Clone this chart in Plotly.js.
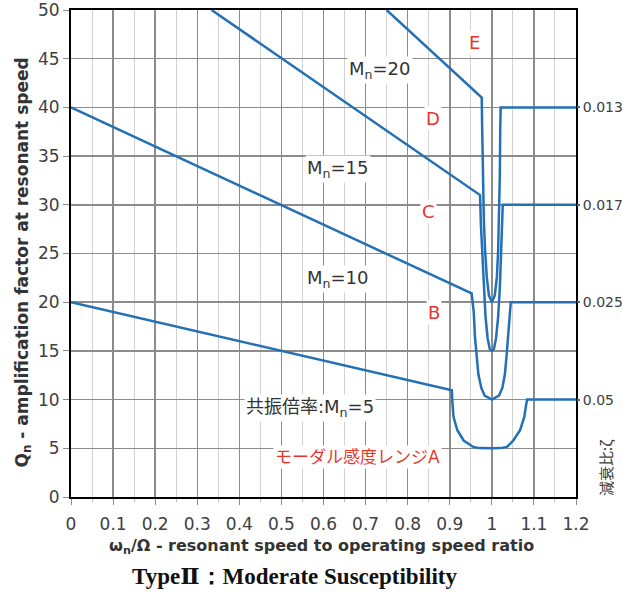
<!DOCTYPE html>
<html>
<head>
<meta charset="utf-8">
<script src="https://cdn.plot.ly/plotly-3.0.1.min.js"></script>
<style>html,body{margin:0;padding:0;background:#fff;}#chart{width:622px;height:593px;}</style>
</head>
<body>
<div id="chart"></div>
<script>
// Mn = 5 (curve A)
const mn5X = [0, 0.905, 0.906, 0.909, 0.918, 0.933, 0.956, 0.97, 1.0, 1.02, 1.036, 1.051, 1.067, 1.077, 1.082, 1.084, 1.2];
const mn5Y = [20, 10.95, 9.9, 8.2, 6.85, 5.8, 5.14, 5.02, 5.0, 5.02, 5.14, 5.8, 6.85, 8.2, 9.6, 10, 10];
// Mn = 10 (curve B)
const mn10X = [0, 0.952, 0.957, 0.960, 0.964, 0.968, 0.975, 0.983, 1.0, 1.017, 1.025, 1.031, 1.035, 1.038, 1.042, 1.045, 1.2];
const mn10Y = [40, 20.9, 19.0, 16.4, 14.5, 12.6, 11.2, 10.4, 10.0, 10.4, 11.2, 12.6, 14.5, 16.4, 18.5, 20, 20];
// Mn = 15 (curve C)
const mn15X = [0.334, 0.972, 0.974, 0.977, 0.981, 0.985, 0.990, 0.995, 1.0, 1.005, 1.010, 1.015, 1.019, 1.022, 1.024, 1.026, 1.2];
const mn15Y = [50, 31.0, 28, 25, 21.5, 18.5, 16.3, 15.2, 15.0, 15.2, 16.3, 18.5, 21.5, 25, 28, 30, 30];
// Mn = 20 (curve D)
const mn20X = [0.75, 0.976, 0.977, 0.979, 0.981, 0.984, 0.988, 0.993, 1.0, 1.007, 1.012, 1.015, 1.017, 1.019, 1.020, 1.021, 1.2];
const mn20Y = [50, 41.0, 38, 33, 28.5, 25.3, 22.6, 20.7, 20.0, 20.7, 22.6, 25.3, 28.5, 33, 38, 40, 40];
// left axis ticks
const qTickVals = [0, 5, 10, 15, 20, 25, 30, 35, 40, 45, 50];
// right axis: damping ratio
const dampTickVals = [10, 20, 30, 40];
const dampTickText = ["0.05", "0.025", "0.017", "0.013"];

const blue = '#2370b6';
const lineStyle = {color: blue, width: 2.5};
const traces = [
  {x: mn5X, y: mn5Y, mode: 'lines', line: lineStyle, hoverinfo: 'skip'},
  {x: mn10X, y: mn10Y, mode: 'lines', line: lineStyle, hoverinfo: 'skip'},
  {x: mn15X, y: mn15Y, mode: 'lines', line: lineStyle, hoverinfo: 'skip'},
  {x: mn20X, y: mn20Y, mode: 'lines', line: lineStyle, hoverinfo: 'skip'},
  {x: [], y: [], yaxis: 'y2', mode: 'lines', hoverinfo: 'skip'}
];

const tickFont = {family: 'DejaVu Sans, Noto Sans CJK JP', size: 17, color: '#404040'};
const rightFont = {family: 'DejaVu Sans, Noto Sans CJK JP', size: 14, color: '#404040'};
const labFont = {family: 'DejaVu Sans, Noto Sans CJK JP', size: 18, color: '#333333'};
const redFont = {family: 'DejaVu Sans, Noto Sans CJK JP', size: 18, color: '#e8352e'};
const redJpFont = {family: 'DejaVu Sans, Noto Sans CJK JP', size: 17, color: '#e8352e'};

function lab(text, x, y, font) {
  return {text: text, x: x, y: y, xref: 'x', yref: 'y', showarrow: false, font: font,
          bgcolor: 'white', borderpad: 1, xanchor: 'center', yanchor: 'middle'};
}

const layout = {
  width: 622, height: 593,
  margin: {l: 71, r: 46, t: 10, b: 96},
  paper_bgcolor: 'white', plot_bgcolor: 'white',
  showlegend: false,
  xaxis: {
    range: [0, 1.2], tick0: 0, dtick: 0.1, autorange: false,
    showgrid: true, gridcolor: '#8c8c8c', gridwidth: 1.5, zeroline: false,
    showline: true, linecolor: 'black', linewidth: 2, mirror: true,
    ticks: 'outside', ticklen: 6, tickcolor: '#8c8c8c', tickwidth: 1,
    tickfont: tickFont, ticklabelstandoff: 5, ticklabeloverflow: 'allow',
    minor: {dtick: 0.05, showgrid: true, gridcolor: '#d2d2d2', gridwidth: 1, ticks: 'outside', ticklen: 3, tickcolor: '#bbbbbb'}
  },
  yaxis: {
    range: [0, 50], autorange: false, tickmode: 'array', tickvals: qTickVals,
    showgrid: true, gridcolor: '#8c8c8c', gridwidth: 1.5, zeroline: false,
    showline: true, linecolor: 'black', linewidth: 2, mirror: true,
    ticks: 'outside', ticklen: 6, tickcolor: '#8c8c8c', tickwidth: 1,
    tickfont: tickFont, ticklabeloverflow: 'allow'
  },
  yaxis2: {
    overlaying: 'y', side: 'right', range: [0, 50], autorange: false,
    tickmode: 'array', tickvals: dampTickVals, ticktext: dampTickText,
    showgrid: false, zeroline: false, showline: false,
    ticks: 'outside', ticklen: 3, tickcolor: blue, tickwidth: 2,
    tickfont: rightFont, ticklabelstandoff: 0, ticklabeloverflow: 'allow'
  },
  annotations: [
    lab('M<sub>n</sub>=20', 0.735, 43.8, labFont),
    lab('M<sub>n</sub>=15', 0.635, 33.7, labFont),
    lab('M<sub>n</sub>=10', 0.635, 22.4, labFont),
    lab('共振倍率:M<sub>n</sub>=5', 0.568, 9.1, labFont),
    lab('モーダル感度レンジA', 0.68, 4.1, redJpFont),
    lab('E', 0.958, 46.7, redFont),
    lab('D', 0.86, 38.9, redFont),
    lab('C', 0.849, 29.3, redFont),
    lab('B', 0.863, 18.9, redFont),
    {text: '<b>ω<sub>n</sub>/Ω - resonant speed to operating speed ratio</b>', xref: 'paper', yref: 'paper',
     x: 0.497, y: 0, yshift: -49, xanchor: 'center', yanchor: 'middle', showarrow: false,
     font: {family: 'DejaVu Sans', size: 16, color: '#333333'}},
    {text: '<b>Q<sub>n</sub> - amplification factor at resonant speed</b>', xref: 'paper', yref: 'paper',
     x: 0, xshift: -48, y: 0.5, yshift: -9, xanchor: 'center', yanchor: 'middle', textangle: -90, showarrow: false,
     font: {family: 'DejaVu Sans', size: 17, color: '#333333'}},
    {text: '減衰比:ζ', xref: 'paper', yref: 'paper',
     x: 1, xshift: 29, y: 0, yshift: 29, xanchor: 'center', yanchor: 'middle', textangle: -90, showarrow: false,
     font: {family: 'Noto Sans CJK JP, DejaVu Sans', size: 15, color: '#404040'}},
    {text: '<b>TypeⅡ：Moderate Susceptibility</b>', xref: 'paper', yref: 'paper',
     x: 0.442, y: 0, yshift: -79, xanchor: 'center', yanchor: 'middle', showarrow: false,
     font: {family: 'Liberation Serif, DejaVu Serif, serif', size: 23, color: '#111111'}}
  ]
};

Plotly.newPlot('chart', traces, layout, {displayModeBar: false, staticPlot: true});
</script>
</body>
</html>
